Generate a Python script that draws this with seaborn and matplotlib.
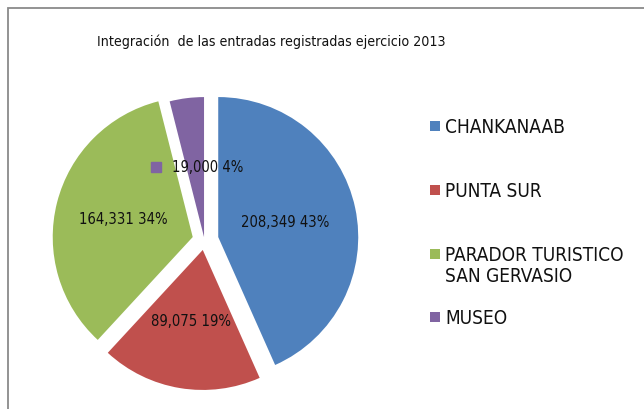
import numpy as np
import matplotlib
matplotlib.use("Agg")
import matplotlib.pyplot as plt
from matplotlib import font_manager as fm
from matplotlib.patches import Rectangle
import seaborn as sns

# ---- data ----
categories = ["CHANKANAAB", "PUNTA SUR", "PARADOR TURISTICO\nSAN GERVASIO", "MUSEO"]
values = [208349, 89075, 164331, 19000]
colors = ["#4F81BD", "#C0504D", "#9BBB59", "#8064A2"]
title = "Integración  de las entradas registradas ejercicio 2013"

sns.set_theme(style="white")

# pick a narrow font if available
names = {f.name for f in fm.fontManager.ttflist}
narrow = False
if "Liberation Sans Narrow" in names:
    fam = "Liberation Sans Narrow"; stretch = "normal"; narrow = True
elif any(f.name == "DejaVu Sans" and f.stretch == "condensed" for f in fm.fontManager.ttflist):
    fam = "DejaVu Sans"; stretch = "condensed"
else:
    fam = "Liberation Sans"; stretch = "normal"
plt.rcParams["font.family"] = [fam, "DejaVu Sans"]
plt.rcParams["font.stretch"] = stretch

if narrow:
    fs_title, fs_leg, fs_lab = 13, 15, 13
else:
    fs_title, fs_leg, fs_lab = 10.2, 13.7, 10.6

W, H = 644, 409
fig = plt.figure(figsize=(W / 100, H / 100), dpi=100)

# pie axes: center at (204.4, 240) px, radius 140 px
cx, cy, R, s = 204.4, 240, 140, 170
ax = fig.add_axes([(cx - s) / W, (H - cy - s) / H, 2 * s / W, 2 * s / H])
total = sum(values)
explode = [0.101, 0.072, 0.086, 0.021]
wedges, _ = ax.pie(values, colors=colors, startangle=90, counterclock=False,
                   explode=explode, radius=1, wedgeprops=dict(linewidth=0))
lim = s / R
ax.set_xlim(-lim, lim)
ax.set_ylim(-lim, lim)
ax.set_aspect("auto")
ax.axis("off")

label_frac = [0.487, 0.515, 0.509, 0.50]
label_dth = [0, 0, 0, -1.5]
for i, (w, v) in enumerate(zip(wedges, values)):
    th = np.deg2rad((w.theta1 + w.theta2) / 2 + label_dth[i])
    x = w.center[0] + label_frac[i] * np.cos(th)
    y = w.center[1] + label_frac[i] * np.sin(th)
    txt = f"{v:,} {100 * v / total:.0f}%"
    if i == 3:
        ax.plot([x - 41 / R], [y], marker="s", ms=6.8, color=colors[i], linestyle="none")
        ax.text(x + 10.5 / R, y, txt, ha="center", va="center", fontsize=fs_lab, color="#111111")
    else:
        ax.text(x, y, txt, ha="center", va="center", fontsize=fs_lab, color="#111111")

# title
fig.text(271 / W, 1 - 42 / H, title, ha="center", va="center", fontsize=fs_title, color="#111111")

# legend (manual to align key with first line as in the source)
leg_y = [126, 190, 254, 317]
for lab, col, yc in zip(categories, colors, leg_y):
    fig.patches.append(Rectangle((430 / W, 1 - (yc + 5) / H), 10 / W, 10 / H,
                                 transform=fig.transFigure, facecolor=col, edgecolor="none"))
    fig.text(445 / W, 1 - (yc - 8) / H, lab, ha="left", va="top", fontsize=fs_leg,
             color="#111111", linespacing=1.15)

# outer border (cropped at right and bottom)
fig.patches.append(Rectangle((8 / W, -0.05), 1.2, 1 - 8 / H + 0.05, transform=fig.transFigure,
                             fill=False, edgecolor="#8a8a8a", linewidth=1.3))

fig.savefig("out.png", dpi=100)
